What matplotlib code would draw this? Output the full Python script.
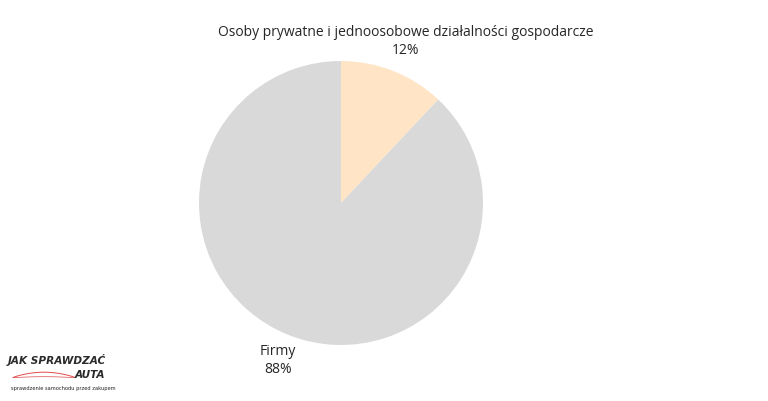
import matplotlib
matplotlib.use("Agg")
import matplotlib.pyplot as plt
import numpy as np

categories = ["Osoby prywatne i jednoosobowe działalności gospodarcze", "Firmy"]
values = [12, 88]
pct_labels = ["12%", "88%"]
colors = ["#FFE5C5", "#D9D9D9"]

plt.rcParams['font.family'] = ['Open Sans', 'DejaVu Sans']

W, H = 768, 402
fig = plt.figure(figsize=(W / 100, H / 100), dpi=100)
fig.patch.set_facecolor("white")

cx, cy, r = 341, 204, 142
ax = fig.add_axes([(cx - r) / W, (H - cy - r) / H, 2 * r / W, 2 * r / H])
ax.pie(values, colors=colors, startangle=90, counterclock=False,
       wedgeprops=dict(linewidth=0))
ax.set_aspect("equal")
ax.set_xlim(-1, 1)
ax.set_ylim(-1, 1)
ax.axis("off")

txt_color = "#262626"
fs = 10
fig.text(406 / W, 1 - 33 / H, categories[0], ha="center", va="center", fontsize=fs, color=txt_color)
fig.text(406 / W, 1 - 51 / H, pct_labels[0], ha="center", va="center", fontsize=fs, color=txt_color)
fig.text(278 / W, 1 - 352 / H, categories[1], ha="center", va="center", fontsize=fs, color=txt_color)
fig.text(278 / W, 1 - 370 / H, pct_labels[1], ha="center", va="center", fontsize=fs, color=txt_color)

# Logo
fig.text(8 / W, 1 - 360 / H, "JAK SPRAWDZAĆ", ha="left", va="center", fontsize=7.6,
         fontweight="bold", fontstyle="italic", color="#2a2a2a", family=["DejaVu Sans"])
fig.text(105 / W, 1 - 375 / H, "AUTA", ha="right", va="center", fontsize=7.6,
         fontweight="bold", fontstyle="italic", color="#2a2a2a", family=["DejaVu Sans"])
fig.text(11 / W, 1 - 389 / H, "sprawdzenie samochodu przed zakupem", ha="left", va="center",
         fontsize=3.7, color="#222222", family=["DejaVu Sans Condensed", "DejaVu Sans"])
lax = fig.add_axes([10 / W, 1 - 384 / H, 68 / W, 18 / H])
t = np.linspace(0, 1, 50)
lax.plot(t, 0.3 + 0.3 * np.sin(np.pi * t) ** 0.8, color="#e04a4a", lw=0.7)
lax.plot(t, 0.3 + 0.05 * np.sin(np.pi * t), color="#e04a4a", lw=0.5)
lax.set_xlim(-0.05, 1.05)
lax.set_ylim(0, 1)
lax.axis("off")

fig.savefig("out.png", dpi=100, facecolor="white")
